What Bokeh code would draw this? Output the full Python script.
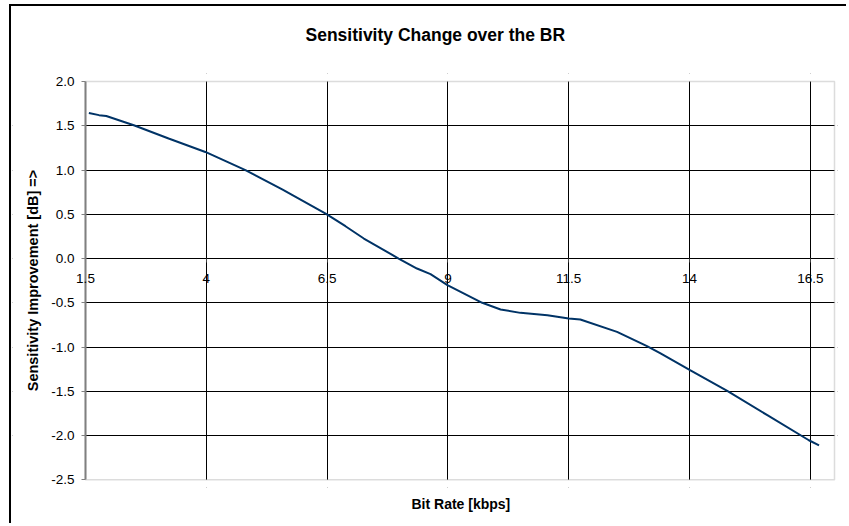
from bokeh.plotting import figure
from bokeh.models import (Range1d, FixedTicker, PrintfTickFormatter, ColumnDataSource,
                          Title, Label, BoxAnnotation)
from bokeh.embed import file_html
from bokeh.resources import INLINE

# ---- data ----
bit_rate = [1.57, 1.78, 1.93, 2.5, 3.22, 3.98, 4.81, 5.57, 6.47, 6.88, 7.26, 7.98,
            8.36, 8.64, 8.99, 9.71, 10.09, 10.50, 11.06, 11.50, 11.74, 12.50, 13.12,
            13.40, 14.01, 14.78, 15.61, 16.47, 16.68]
sensitivity = [1.645, 1.62, 1.61, 1.506, 1.356, 1.204, 0.998, 0.78, 0.508, 0.365, 0.226, 0.0,
               -0.113, -0.177, -0.30, -0.50, -0.576, -0.614, -0.64, -0.678, -0.689, -0.829, -0.99,
               -1.073, -1.262, -1.496, -1.77, -2.053, -2.11]
x_ticks = [1.5, 4, 6.5, 9, 11.5, 14, 16.5]
x_tick_labels = ["1.5", "4", "6.5", "9", "11.5", "14", "16.5"]
y_ticks = [-2.5, -2.0, -1.5, -1.0, -0.5, 0.0, 0.5, 1.0, 1.5, 2.0]
x_min, x_max = 1.5, 17.0
y_min, y_max = -2.5, 2.0
x_axis_crossing = 0.0

FONT = "Liberation Sans"

# ---- layout (canvas pixels) ----
W, H = 837, 519
AREA_LEFT, AREA_RIGHT, AREA_TOP, AREA_BOTTOM = 74, 823, 75, 473.3   # plot area
FRAME_LEFT, FRAME_RIGHT, FRAME_TOP, FRAME_BOTTOM = 1, 826, 67, 481  # wider frame, so no text is clipped
px_per_x = (AREA_RIGHT - AREA_LEFT) / (x_max - x_min)
px_per_y = (AREA_BOTTOM - AREA_TOP) / (y_max - y_min)
x_start = x_min - (AREA_LEFT - FRAME_LEFT) / px_per_x
x_end = x_max + (FRAME_RIGHT - AREA_RIGHT) / px_per_x
y_end = y_max + (AREA_TOP - FRAME_TOP) / px_per_y
y_start = y_min - (FRAME_BOTTOM - AREA_BOTTOM) / px_per_y

p = figure(width=W, height=H, output_backend="svg", toolbar_location=None,
           x_range=Range1d(x_start, x_end), y_range=Range1d(y_start, y_end),
           min_border_left=FRAME_LEFT, min_border_right=W - FRAME_RIGHT,
           min_border_top=FRAME_TOP, min_border_bottom=H - FRAME_BOTTOM,
           background_fill_color="white", border_fill_color="white",
           title="Sensitivity Change over the BR")
p.styles = {"margin-left": "9px", "margin-top": "4px",
            "border-left": "2px solid #000", "border-top": "2px solid #000"}
p.outline_line_color = None

p.title.align = "left"
p.title.offset = 220 + AREA_LEFT - FRAME_LEFT
p.title.standoff = 10
p.title.text_font = FONT
p.title.text_font_size = "17.5px"
p.title.text_font_style = "bold"
p.title.text_color = "black"
# white spacer between plot area and title
p.add_layout(Title(text=".", text_font_size="10px", text_color="white", standoff=14), "above")

# grids
p.xgrid.ticker = FixedTicker(ticks=x_ticks[1:])
p.ygrid.ticker = FixedTicker(ticks=y_ticks[1:-1])
p.xgrid.grid_line_color = "black"
p.ygrid.grid_line_color = "black"

# white masks around the plot area (hide grid lines there)
for kw in (dict(right=x_min), dict(left=x_max), dict(bottom=y_max), dict(top=y_min)):
    p.add_layout(BoxAnnotation(fill_color="white", fill_alpha=1.0, line_alpha=0,
                               level="underlay", **kw))
# plot-area border
p.add_layout(BoxAnnotation(left=x_min, right=x_max, bottom=y_min, top=y_max,
                           fill_alpha=0, line_color="#8c8c8c", line_width=1.5,
                           level="underlay"))

# y axis at x = 1.5
ya = p.yaxis[0]
ya.fixed_location = x_min
ya.bounds = (y_min, y_max)
ya.ticker = FixedTicker(ticks=y_ticks)
ya.formatter = PrintfTickFormatter(format="%.1f")
ya.major_label_text_font = FONT
ya.major_label_text_font_size = "13.5px"
ya.major_label_text_color = "black"
ya.major_tick_out = 4
ya.major_tick_in = 0
ya.major_tick_line_color = "#808080"
ya.minor_tick_line_color = None
ya.axis_line_color = "#808080"
ya.axis_line_width = 2
ya.major_label_standoff = 7
ya.axis_label = "Sensitivity Improvement [dB] =>"
ya.axis_label_text_font = FONT
ya.axis_label_text_font_size = "14.5px"
ya.axis_label_text_font_style = "bold"
ya.axis_label_text_color = "black"
ya.axis_label_standoff = 7

# x axis crossing at y = 0 (tick marks only)
xa = p.xaxis[0]
xa.fixed_location = x_axis_crossing
xa.bounds = (x_min, x_max)
xa.ticker = FixedTicker(ticks=x_ticks)
xa.major_label_text_alpha = 0
xa.axis_line_color = None
xa.major_tick_out = 4
xa.major_tick_in = 0
xa.major_tick_line_color = "#404040"
xa.minor_tick_line_color = None

# x tick labels below the zero line
for xv, lab in zip(x_ticks, x_tick_labels):
    p.add_layout(Label(x=xv, y=x_axis_crossing, text=lab, y_offset=-20,
                       text_align="center", text_baseline="middle",
                       text_font=FONT, text_font_size="13.5px", text_color="black"))

# x axis title, centred under the plot area
p.add_layout(Title(text="Bit Rate [kbps]", align="left", offset=399, vertical_align="top",
                   standoff=17, text_font=FONT, text_font_size="14px",
                   text_font_style="bold", text_color="black"), "below")

# data line
src = ColumnDataSource(dict(x=bit_rate, y=sensitivity))
p.line(x="x", y="y", source=src, line_color="#003366", line_width=2)

open("out.html", "w").write(file_html(p, INLINE))
